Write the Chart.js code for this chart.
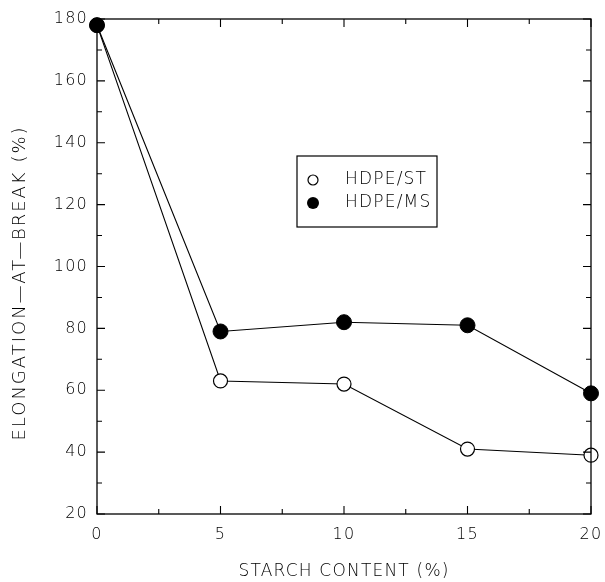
<!DOCTYPE html>
<html>
<head>
<meta charset="utf-8">
<script src="https://cdn.jsdelivr.net/npm/chart.js@4.4.0/dist/chart.umd.min.js"></script>
<style>
  html, body { margin: 0; padding: 0; background: #fff; }
  #wrap { width: 605px; height: 582px; }
</style>
</head>
<body>
<div id="wrap"><canvas id="chart" width="605" height="582"></canvas></div>
<script>
// --- DATA ---
const starchContent = [0, 5, 10, 15, 20];
const hdpeSt = [178, 63, 62, 41, 39];
const hdpeMs = [178, 79, 82, 81, 59];
const xTicks = [0, 5, 10, 15, 20];
const yTicks = [20, 40, 60, 80, 100, 120, 140, 160, 180];
const yTitle = 'ELONGATION\u2014AT\u2014BREAK (%)';

const INK = '#000';
const FONT = '"DejaVu Sans", "Liberation Sans", sans-serif';
const WEIGHT = 200;

// --- PLUGIN: wide letter spacing like the scanned figure ---
const spacing = {
    id: 'spacing',
    beforeDraw(chart) { chart.ctx.letterSpacing = '1.2px'; }
};

// --- PLUGIN: box frame + inward ticks on all four sides ---
const frameTicks = {
    id: 'frameTicks',
    afterDatasetsDraw(chart) {
        const { ctx, chartArea: a, scales } = chart;
        ctx.save();
        ctx.strokeStyle = INK;
        ctx.lineWidth = 1.3;
        ctx.strokeRect(a.left, a.top, a.right - a.left, a.bottom - a.top);
        ctx.lineWidth = 1.1;
        ctx.beginPath();
        for (let v = 0; v <= 20; v += 2.5) {
            const x = scales.x.getPixelForValue(v);
            const len = v % 5 === 0 ? 8 : 5;
            ctx.moveTo(x, a.bottom); ctx.lineTo(x, a.bottom - len);
            ctx.moveTo(x, a.top); ctx.lineTo(x, a.top + len);
        }
        for (let v = 20; v <= 180; v += 10) {
            const y = scales.y.getPixelForValue(v);
            const len = v % 20 === 0 ? 8 : 5;
            ctx.moveTo(a.left, y); ctx.lineTo(a.left + len, y);
            ctx.moveTo(a.right, y); ctx.lineTo(a.right - len, y);
        }
        ctx.stroke();

        // y axis title, set a little below the plot centre as in the original
        ctx.translate(20, 283);
        ctx.rotate(-Math.PI / 2);
        ctx.font = WEIGHT + ' 18px ' + FONT;
        ctx.letterSpacing = '2px';
        ctx.fillStyle = INK;
        ctx.textAlign = 'center';
        ctx.textBaseline = 'middle';
        ctx.fillText(yTitle, 0, 0);
        ctx.restore();
    }
};

// --- PLUGIN: boxed legend inside the plot ---
const boxLegend = {
    id: 'boxLegend',
    afterDraw(chart, args, opts) {
        const { ctx } = chart;
        ctx.save();
        ctx.strokeStyle = INK;
        ctx.lineWidth = 1.2;
        ctx.strokeRect(opts.x, opts.y, opts.w, opts.h);
        ctx.font = WEIGHT + ' 17px ' + FONT;
        ctx.letterSpacing = '1.2px';
        ctx.textBaseline = 'middle';
        chart.data.datasets.forEach((ds, i) => {
            const cy = opts.y + 24 + i * 23;
            const cx = opts.x + 16;
            ctx.beginPath();
            ctx.arc(cx, cy, ds.filled ? 6 : 5, 0, Math.PI * 2);
            if (ds.filled) { ctx.fillStyle = INK; ctx.fill(); }
            else { ctx.lineWidth = 1.2; ctx.stroke(); }
            ctx.fillStyle = INK;
            ctx.fillText(ds.label, opts.x + 48, cy);
        });
        ctx.restore();
    }
};

const toPoints = (xs, ys) => xs.map((x, i) => ({ x: x, y: ys[i] }));

new Chart(document.getElementById('chart'), {
    type: 'scatter',
    data: {
        datasets: [
            {
                label: 'HDPE/ST',
                data: toPoints(starchContent, hdpeSt),
                showLine: true,
                borderColor: INK,
                borderWidth: 1.1,
                backgroundColor: '#fff',
                pointBorderColor: INK,
                pointBackgroundColor: '#fff',
                pointBorderWidth: 1.2,
                pointRadius: 7,
                filled: false,
                clip: false,
                order: 2
            },
            {
                label: 'HDPE/MS',
                data: toPoints(starchContent, hdpeMs),
                showLine: true,
                borderColor: INK,
                borderWidth: 1.1,
                backgroundColor: INK,
                pointBorderColor: INK,
                pointBackgroundColor: INK,
                pointBorderWidth: 1,
                pointRadius: 7.5,
                filled: true,
                clip: false,
                order: 1
            }
        ]
    },
    options: {
        responsive: false,
        animation: false,
        layout: { padding: { top: 19, right: 14, left: 0, bottom: 0 } },
        plugins: {
            legend: { display: false },
            tooltip: { enabled: false },
            boxLegend: { x: 297, y: 156, w: 140, h: 71 }
        },
        scales: {
            x: {
                type: 'linear',
                min: 0, max: 20,
                afterBuildTicks: s => { s.ticks = xTicks.map(v => ({ value: v })); },
                afterFit: s => { s.height = 68; s.paddingRight = 0; s.paddingLeft = 0; },
                grid: { display: false, drawTicks: false },
                border: { display: false },
                ticks: { color: INK, font: { family: FONT, size: 16, weight: WEIGHT }, padding: 11, maxRotation: 0 },
                title: {
                    display: true,
                    text: 'STARCH CONTENT (%)',
                    color: INK,
                    font: { family: FONT, size: 17, weight: WEIGHT },
                    padding: { top: 11, bottom: 0 }
                }
            },
            y: {
                type: 'linear',
                min: 20, max: 180,
                afterBuildTicks: s => { s.ticks = yTicks.map(v => ({ value: v })); },
                afterFit: s => { s.width = 97; },
                grid: { display: false, drawTicks: false },
                border: { display: false },
                ticks: { color: INK, font: { family: FONT, size: 16, weight: WEIGHT }, padding: 9 },
                title: { display: false }
            }
        }
    },
    plugins: [spacing, frameTicks, boxLegend]
});
</script>
</body>
</html>
